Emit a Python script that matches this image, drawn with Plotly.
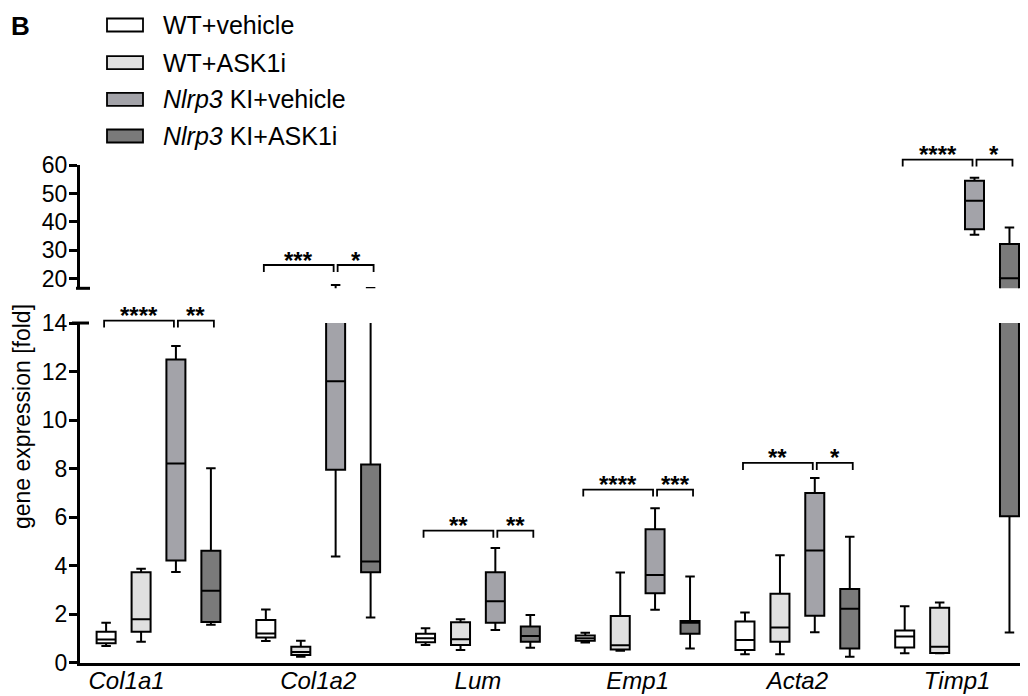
import plotly.graph_objects as go

# ---------------- data ----------------
genes = ["Col1a1", "Col1a2", "Lum", "Emp1", "Acta2", "Timp1"]
group_names = ["WT+vehicle", "WT+ASK1i", "<i>Nlrp3</i> KI+vehicle", "<i>Nlrp3</i> KI+ASK1i"]
group_colors = ["#ffffff", "#e0e0e0", "#a3a3a9", "#7a7a7a"]

wt_veh_min = [0.70, 0.91, 0.74, 0.84, 0.36, 0.40]
wt_veh_q1 = [0.81, 1.05, 0.85, 0.92, 0.54, 0.64]
wt_veh_med = [0.97, 1.22, 1.02, 1.02, 0.95, 1.09]
wt_veh_q3 = [1.29, 1.77, 1.20, 1.13, 1.71, 1.34]
wt_veh_max = [1.66, 2.20, 1.43, 1.25, 2.08, 2.34]

wt_ask_min = [0.88, 0.26, 0.54, 0.50, 0.36, 0.40]
wt_ask_q1 = [1.29, 0.33, 0.74, 0.56, 0.88, 0.41]
wt_ask_med = [1.80, 0.45, 0.98, 0.73, 1.46, 0.67]
wt_ask_q3 = [3.74, 0.67, 1.68, 1.94, 2.85, 2.28]
wt_ask_max = [3.88, 0.92, 1.80, 3.73, 4.44, 2.49]

ki_veh_min = [3.75, 4.39, 1.36, 2.19, 1.27, 35.5]
ki_veh_q1 = [4.22, 7.96, 1.66, 2.87, 1.95, 37.4]
ki_veh_med = [8.22, 11.6, 2.54, 3.62, 4.63, 47.4]
ki_veh_q3 = [12.5, 15.8, 3.74, 5.51, 7.00, 54.5]
ki_veh_max = [13.05, 17.8, 4.74, 6.37, 7.62, 55.5]

ki_ask_min = [1.58, 1.87, 0.63, 0.60, 0.26, 1.26]
ki_ask_q1 = [1.69, 3.74, 0.88, 1.20, 0.60, 6.04]
ki_ask_med = [2.98, 4.18, 1.11, 1.66, 2.23, 20.2]
ki_ask_q3 = [4.62, 8.17, 1.50, 1.73, 3.05, 32.2]
ki_ask_max = [8.02, 16.75, 1.98, 3.56, 5.20, 38.0]

stats = [
    (wt_veh_min, wt_veh_q1, wt_veh_med, wt_veh_q3, wt_veh_max),
    (wt_ask_min, wt_ask_q1, wt_ask_med, wt_ask_q3, wt_ask_max),
    (ki_veh_min, ki_veh_q1, ki_veh_med, ki_veh_q3, ki_veh_max),
    (ki_ask_min, ki_ask_q1, ki_ask_med, ki_ask_q3, ki_ask_max),
]

# significance brackets: (KI veh vs WT veh), (KI ASK1i vs KI veh)
sig_first = ["****", "***", "**", "****", "**", "****"]
sig_second = ["**", "*", "**", "***", "*", "*"]
bracket_level = [14.1, 24.85, 5.45, 7.14, 8.24, 61.9]
bracket_axis = ["low", "up", "low", "low", "low", "up"]

lower_ticks = [0, 2, 4, 6, 8, 10, 12, 14]
upper_ticks = [20, 30, 40, 50, 60]

# ---------------- layout geometry ----------------
# the page body adds an 8px margin, so the figure is 8px smaller and
# all reference pixel positions are shifted by OFF
OFF = 8
W, H = 1028 - OFF, 696 - OFF
ML, MR, MT, MB = 80 - OFF, 0, 165 - OFF, 696 - 663
PW, PH = W - ML - MR, H - MT - MB
XR = [-0.4915, 5.444]
LOW_R, UP_R = [0, 14], [16.66, 60]
LOW_DOM = [0, 0.6827]
UP_DOM = [0.7524, 1.0]
OFFS = [-0.328, -0.109, 0.109, 0.328]
BOXW = 0.119
FONT = "Arial, Liberation Sans, sans-serif"


def xp(v):
    return (v - XR[0]) / (XR[1] - XR[0])


def yp(v, ax):
    r, d = (LOW_R, LOW_DOM) if ax == "low" else (UP_R, UP_DOM)
    return d[0] + (v - r[0]) / (r[1] - r[0]) * (d[1] - d[0])


def pxx(px):
    return (px - OFF - ML) / PW


def pxy(py):
    return (H - MB - (py - OFF)) / PH


fig = go.Figure()

for gi, (mn, q1, md, q3, mx) in enumerate(stats):
    pos = [i + OFFS[gi] for i in range(len(genes))]
    for yax in ["y", "y2"]:
        fig.add_trace(go.Box(
            x=pos, q1=q1, median=md, q3=q3, lowerfence=mn, upperfence=mx,
            width=BOXW, whiskerwidth=0.5, boxpoints=False,
            fillcolor=group_colors[gi], line=dict(color="black", width=2),
            xaxis="x", yaxis=yax, showlegend=False, hoverinfo="skip",
        ))

shapes = []
annotations = []

# brackets
leg = 7 / PH
g1 = 2 / 159.7
g2 = 3 / 159.7
for i in range(len(genes)):
    ytop = yp(bracket_level[i], bracket_axis[i])
    c0, c2, c3 = i + OFFS[0], i + OFFS[2], i + OFFS[3]
    for (a, b, txt) in [(c0 - g1, c2 - g1, sig_first[i]), (c2 + g1, c3 + g2, sig_second[i])]:
        shapes.append(dict(
            type="path", xref="paper", yref="paper",
            path=f"M {xp(a)},{ytop - leg} L {xp(a)},{ytop} L {xp(b)},{ytop} L {xp(b)},{ytop - leg}",
            line=dict(color="black", width=1.8),
        ))
        annotations.append(dict(
            x=xp((a + b) / 2), y=ytop, xref="paper", yref="paper",
            text=f"<b>{txt}</b>", showarrow=False, xanchor="center", yanchor="middle",
            yshift=5, font=dict(family=FONT, size=24, color="black"),
        ))

# axis caps at the break
shapes.append(dict(type="line", xref="paper", yref="paper",
                   x0=pxx(72), x1=pxx(89), y0=LOW_DOM[1], y1=LOW_DOM[1],
                   line=dict(color="black", width=3)))
shapes.append(dict(type="line", xref="paper", yref="paper",
                   x0=pxx(76), x1=pxx(90), y0=UP_DOM[0], y1=UP_DOM[0],
                   line=dict(color="black", width=3)))

# manual legend
legend_y_px = [25, 62.7, 99.3, 136]
for gi, name in enumerate(group_names):
    yc = legend_y_px[gi]
    shapes.append(dict(type="rect", xref="paper", yref="paper",
                       x0=pxx(107), x1=pxx(143), y0=pxy(yc + 6.5), y1=pxy(yc - 6.5),
                       fillcolor=group_colors[gi], line=dict(color="black", width=1.8)))
    annotations.append(dict(x=pxx(161), y=pxy(yc), xref="paper", yref="paper",
                            text=name, showarrow=False, xanchor="left", yanchor="middle",
                            font=dict(family=FONT, size=25, color="black")))

annotations.append(dict(x=pxx(9), y=pxy(26), xref="paper", yref="paper", text="<b>B</b>",
                        showarrow=False, xanchor="left", yanchor="middle",
                        font=dict(family=FONT, size=26, color="black")))
annotations.append(dict(x=pxx(22), y=pxy(417), xref="paper", yref="paper",
                        text="gene expression [fold]", textangle=-90, showarrow=False,
                        xanchor="center", yanchor="middle",
                        font=dict(family=FONT, size=23, color="black")))

tick_pos = [-0.2, 1, 2, 3, 4, 5]

fig.update_layout(
    width=W, height=H, margin=dict(l=ML, r=MR, t=MT, b=MB),
    paper_bgcolor="white", plot_bgcolor="white",
    showlegend=False, boxmode="overlay",
    font=dict(family=FONT, color="black"),
    xaxis=dict(range=XR, domain=[0, 1], anchor="y", showgrid=False, zeroline=False,
               showline=True, linewidth=3, linecolor="black", ticks="",
               tickvals=tick_pos, ticktext=[f"<i>{g}</i>" for g in genes],
               ticklabelstandoff=-6,
               tickfont=dict(family=FONT, size=24, color="black"), automargin=False),
    yaxis=dict(range=LOW_R, domain=LOW_DOM, anchor="x", showgrid=False, zeroline=False,
               showline=True, linewidth=3, linecolor="black", ticks="outside",
               ticklen=8, tickwidth=3, tickcolor="black", tickvals=lower_ticks,
               ticklabelstandoff=-3,
               tickfont=dict(family=FONT, size=23, color="black"), automargin=False),
    yaxis2=dict(range=UP_R, domain=UP_DOM, anchor="x", showgrid=False, zeroline=False,
                showline=True, linewidth=3, linecolor="black", ticks="outside",
                ticklen=8, tickwidth=3, tickcolor="black", tickvals=upper_ticks,
                ticklabelstandoff=-3,
                tickfont=dict(family=FONT, size=23, color="black"), automargin=False),
    shapes=shapes, annotations=annotations,
)

fig.write_html("out.html")
